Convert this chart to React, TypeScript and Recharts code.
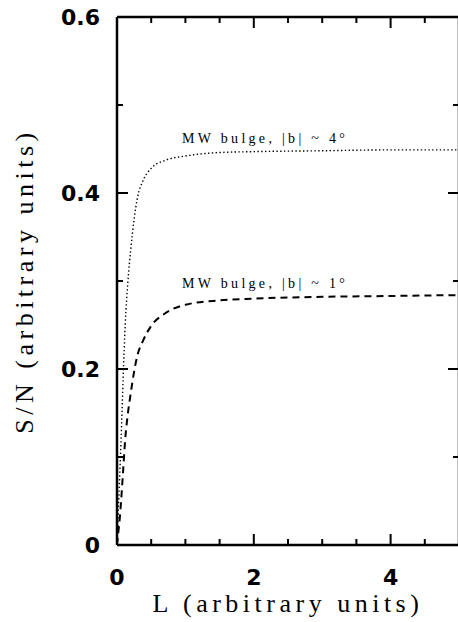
// App.tsx
import React from 'react';
import { LineChart, Line, XAxis, YAxis, ReferenceDot } from 'recharts';

// L (arbitrary units)
const lValues = [0, 0.02, 0.04, 0.06, 0.09, 0.12, 0.16, 0.2, 0.25, 0.3, 0.38, 0.5, 0.7, 1.0, 1.5, 2, 3, 4, 5];
// S/N for MW bulge, |b| ~ 4 deg (dotted)
const snBulge4 = [0, 0.04, 0.08, 0.12, 0.19, 0.25, 0.3, 0.335, 0.37, 0.395, 0.414, 0.428, 0.437, 0.442, 0.446, 0.447, 0.448, 0.449, 0.449];
// S/N for MW bulge, |b| ~ 1 deg (dashed)
const snBulge1 = [0, 0.015, 0.03, 0.05, 0.085, 0.12, 0.15, 0.172, 0.197, 0.216, 0.232, 0.249, 0.263, 0.273, 0.278, 0.28, 0.282, 0.283, 0.284];

const xTicks = [0, 0.5, 1, 1.5, 2, 2.5, 3, 3.5, 4, 4.5, 5];
const xMajor = [0, 2, 4];
const yTicks = [0, 0.1, 0.2, 0.3, 0.4, 0.5, 0.6];
const yMajor = [0, 0.2, 0.4, 0.6];

const notes = [
  { L: 0.95, sn: 0.457, text: 'MW bulge, |b| ~ 4°' },
  { L: 0.95, sn: 0.292, text: 'MW bulge, |b| ~ 1°' },
];

const data = lValues.map((L, i) => ({ L, b4: snBulge4[i], b1: snBulge1[i] }));

const isMajor = (v: number, list: number[]) => list.some((m) => Math.abs(m - v) < 1e-6);
const fmtY = (v: number) => (v === 0 ? '0' : v.toFixed(1));

// chart frame
const W = 470;
const H = 622;
const M_TOP = 16;
const M_RIGHT = 10;
const PLOT_TOP = M_TOP + 1;
const PLOT_RIGHT = W - M_RIGHT - 1;

const SANS = 'DejaVu Sans';
const SERIF = 'Liberation Serif';

// bottom ticks also draw the matching ticks on the top edge
const BottomTick = (p: any) => {
  const len = isMajor(p.payload.value, xMajor) ? 11 : 6;
  return (
    <g>
      <line x1={p.x} y1={p.y} x2={p.x} y2={p.y - len} stroke="#000" strokeWidth={2} />
      <line x1={p.x} y1={PLOT_TOP} x2={p.x} y2={PLOT_TOP + len} stroke="#000" strokeWidth={2} />
      {len === 11 && (
        <text x={p.x} y={p.y + 32} textAnchor="middle" dominantBaseline="central" fill="#000"
          fontFamily={SANS} fontWeight="bold" fontSize={22}>
          {p.payload.value}
        </text>
      )}
    </g>
  );
};

// left ticks also draw the matching ticks on the right edge
const LeftTick = (p: any) => {
  const len = isMajor(p.payload.value, yMajor) ? 11 : 6;
  return (
    <g>
      <line x1={p.x} y1={p.y} x2={p.x + len} y2={p.y} stroke="#000" strokeWidth={2} />
      <line x1={PLOT_RIGHT} y1={p.y} x2={PLOT_RIGHT - len} y2={p.y} stroke="#000" strokeWidth={2} />
      {len === 11 && (
        <text x={p.x - 17} y={p.y} textAnchor="end" dominantBaseline="central" fill="#000"
          fontFamily={SANS} fontWeight="bold" fontSize={22}>
          {fmtY(p.payload.value)}
        </text>
      )}
    </g>
  );
};

const NoteText = (text: string) => (p: any) => (
  <text x={p.cx} y={p.cy} fill="#000" fontFamily={SERIF} fontSize={14} letterSpacing={3.3}>
    {text}
  </text>
);

const App: React.FC = () => {
  return (
    <div style={{ position: 'absolute', left: 0, top: 0, width: 458, height: H, overflow: 'hidden', background: '#fff' }}>
      <LineChart width={W} height={H} data={data} margin={{ top: M_TOP, right: M_RIGHT, bottom: 0, left: 0 }}>
        <XAxis
          dataKey="L"
          type="number"
          domain={[0, 5]}
          ticks={xTicks}
          interval={0}
          tickSize={0}
          tickMargin={0}
          tickLine={false}
          tick={BottomTick}
          height={77}
          axisLine={{ stroke: '#000', strokeWidth: 2.5 }}
          allowDataOverflow
        />
        <XAxis
          xAxisId="top"
          orientation="top"
          type="number"
          domain={[0, 5]}
          tick={false}
          tickLine={false}
          height={1}
          axisLine={{ stroke: '#000', strokeWidth: 2.5 }}
        />
        <YAxis
          type="number"
          domain={[0, 0.6]}
          ticks={yTicks}
          interval={0}
          tickSize={0}
          tickMargin={0}
          tickLine={false}
          tick={LeftTick}
          width={117}
          axisLine={{ stroke: '#000', strokeWidth: 2.5 }}
          allowDataOverflow
        />
        <YAxis
          yAxisId="right"
          orientation="right"
          type="number"
          domain={[0, 0.6]}
          tick={false}
          tickLine={false}
          width={1}
          axisLine={{ stroke: '#000', strokeWidth: 2.5 }}
        />
        <Line
          dataKey="b4"
          type="monotone"
          stroke="#000"
          strokeWidth={1.4}
          strokeDasharray="1.4 2.4"
          dot={false}
          isAnimationActive={false}
        />
        <Line
          dataKey="b1"
          type="monotone"
          stroke="#000"
          strokeWidth={2}
          strokeDasharray="7 5"
          dot={false}
          isAnimationActive={false}
        />
        {notes.map((n) => (
          <ReferenceDot key={n.text} x={n.L} y={n.sn} r={0} shape={NoteText(n.text)} />
        ))}
        <text x={288} y={612} textAnchor="middle" fill="#000" fontFamily={SERIF} fontSize={26}
          letterSpacing={4.5}>
          L (arbitrary units)
        </text>
        <text x={33} y={281} textAnchor="middle" fill="#000" transform="rotate(-90 33 281)"
          fontFamily={SERIF} fontSize={26} letterSpacing={4.5}>
          S/N (arbitrary units)
        </text>
      </LineChart>
    </div>
  );
};

export default App;
